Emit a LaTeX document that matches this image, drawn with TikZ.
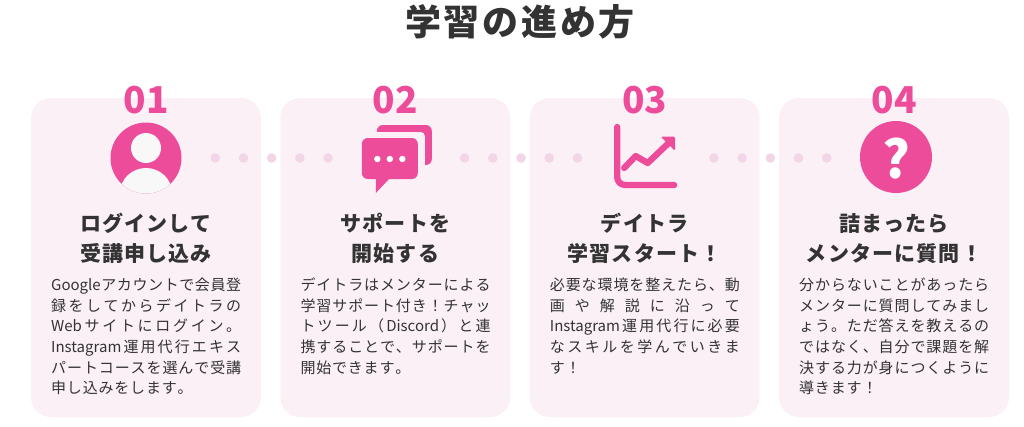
\documentclass[tikz,border=0pt]{standalone}
\usepackage{fontspec}
\setmainfont{Noto Sans CJK JP}
\usepackage{tikz}
\usetikzlibrary{calc}
\definecolor{mainpink}{HTML}{ED4C9B}
\definecolor{cardbg}{HTML}{FBF0F6}
\definecolor{dotpink}{HTML}{F3D5E8}
\definecolor{inkgray}{HTML}{333333}
\definecolor{headwhite}{HTML}{F8F8F8}
\makeatletter
\newif\ifjl@asc
\def\jl@stop{}
\def\jl#1#2{\def\jgap{#1}\expandafter\jl@first#2\jl@stop}
\def\jl@first#1{\ifnum`#1<128 \jl@asctrue\else\jl@ascfalse\fi#1\jl@next}
\def\jl@next#1{\ifx\jl@stop#1\else\jl@put#1\expandafter\jl@next\fi}
\def\jl@put#1{\ifnum`#1<128 \ifjl@asc\else\jgap\fi\jl@asctrue\else\jgap\jl@ascfalse\fi#1}
\makeatother
\tikzset{
	card/.style={fill=cardbg,rounded corners=20pt},
	stepnum/.style={font=\bfseries\fontsize{37pt}{37pt}\selectfont,text=mainpink,inner sep=0pt,anchor=base},
	ttl/.style={font=\bfseries\fontsize{21pt}{21pt}\selectfont,text=inkgray,inner sep=0pt,anchor=base},
	body/.style={font=\fontsize{15pt}{15pt}\selectfont,text=inkgray,inner sep=0pt,anchor=base west},
	dot/.style={fill=dotpink}
}
\begin{document}
\begin{tikzpicture}[x=1pt,y=-1pt]
	\fill[white] (0,0) rectangle (1024,426);
	\useasboundingbox (0,0) rectangle (1024,426);
	\node[inner sep=0pt,anchor=base,font=\bfseries\fontsize{36pt}{36pt}\selectfont,text=inkgray] (head) at (520,35) {\hbox to 230pt{\jl{\hfil}{学習の進め方}}};

	\foreach \cc/\nl/\ta/\tb/\txt in {
		1/6/ログインして/受講申し込み/{Googleアカウントで会員登,録をしてからデイトラの,Webサイトにログイン。,Instagram運用代行エキス,パートコースを選んで受講,申し込みをします。},
		2/5/サポートを/開始する/{デイトラはメンターによる,学習サポート付き！チャッ,トツール（Discord）と連,携することで、サポートを,開始できます。},
		3/5/デイトラ/学習スタート！/{必要な環境を整えたら、動,画や解説に沿って,Instagram運用代行に必要,なスキルを学んでいきま,す！},
		4/6/詰まったら/メンターに質問！/{分からないことがあったら,メンターに質問してみまし,ょう。ただ答えを教えるの,ではなく、自分で課題を解,決する力が身につくように,導きます！}} {
		\pgfmathsetmacro\cx{146+(\cc-1)*249.33}
		\fill[card] (\cx-115,98) rectangle (\cx+115,417);
		\node[stepnum] (num\cc) at (\cx,113) {0\cc};
		\node[ttl] (ttla\cc) at (\cx,231) {\hbox{\jl{\kern1.2pt}{\ta}}};
		\node[ttl] (ttlb\cc) at (\cx,261) {\hbox{\jl{\kern1.2pt}{\tb}}};
		\foreach \lne [count=\k] in \txt {
			\ifnum\k=\nl
				\node[body] (b\cc-\k) at (\cx-95,290.7+\k*20.6-20.6) {\hbox{\jl{\kern0.8pt}{\lne}}};
			\else
				\node[body] (b\cc-\k) at (\cx-95,290.7+\k*20.6-20.6) {\hbox to 190pt{\jl{\hfil}{\lne}}};
			\fi
		}
		\coordinate (ic\cc) at (\cx,158);
	}

	\foreach \a/\b in {1/2,2/3,3/4}
		\foreach \d in {-2,...,2}
			\fill[dot] ($(ic\a)!0.5!(ic\b)+(\d*28.2+1,0)$) circle (4.8pt);

	\fill[mainpink] (ic1) circle (35.5pt);
	\begin{scope}
		\clip (ic1) circle (35.5pt);
		\fill[headwhite] ($(ic1)+(0,-10)$) circle (15pt);
		\fill[headwhite] ($(ic1)+(0,35)$) ellipse (26pt and 25pt);
	\end{scope}

	\fill[mainpink,rounded corners=6pt] ($(ic2)+(-18.5,-33)$) rectangle ($(ic2)+(36.5,7)$);
	\fill[cardbg,rounded corners=4pt] ($(ic2)+(-26,-26)$) rectangle ($(ic2)+(29.5,14)$);
	\fill[mainpink,rounded corners=6pt] ($(ic2)+(-33.5,-20)$) rectangle ($(ic2)+(22.5,21)$);
	\fill[mainpink] ($(ic2)+(-19.5,18)$) -- ($(ic2)+(-19.5,35)$) -- ($(ic2)+(-3.5,18)$) -- cycle;
	\foreach \d in {-18,-5.5,7}
		\fill[white] ($(ic2)+(\d,1)$) circle (3.2pt);

	\draw[mainpink,line width=6.3pt,line cap=round,rounded corners=8pt] ($(ic3)+(-27.5,-31)$) -- ($(ic3)+(-27.5,27)$) -- ($(ic3)+(29.5,27)$);
	\draw[mainpink,line width=6.3pt,line cap=round,line join=round] ($(ic3)+(-20.5,10)$) -- ($(ic3)+(-9,-2)$) -- ($(ic3)+(3,5)$) -- ($(ic3)+(24,-15)$);
	\fill[mainpink,rounded corners=1.5pt] ($(ic3)+(16,-21.5)$) -- ($(ic3)+(30.5,-21.5)$) -- ($(ic3)+(30.5,-7)$) -- cycle;

	\fill[mainpink] ($(ic4)+(2,-1)$) circle (36pt);
	\node[font=\bfseries\fontsize{52pt}{52pt}\selectfont,text=white,inner sep=0pt,anchor=base] (qm) at ($(ic4)+(2,20)$) {?};
\end{tikzpicture}
\end{document}
